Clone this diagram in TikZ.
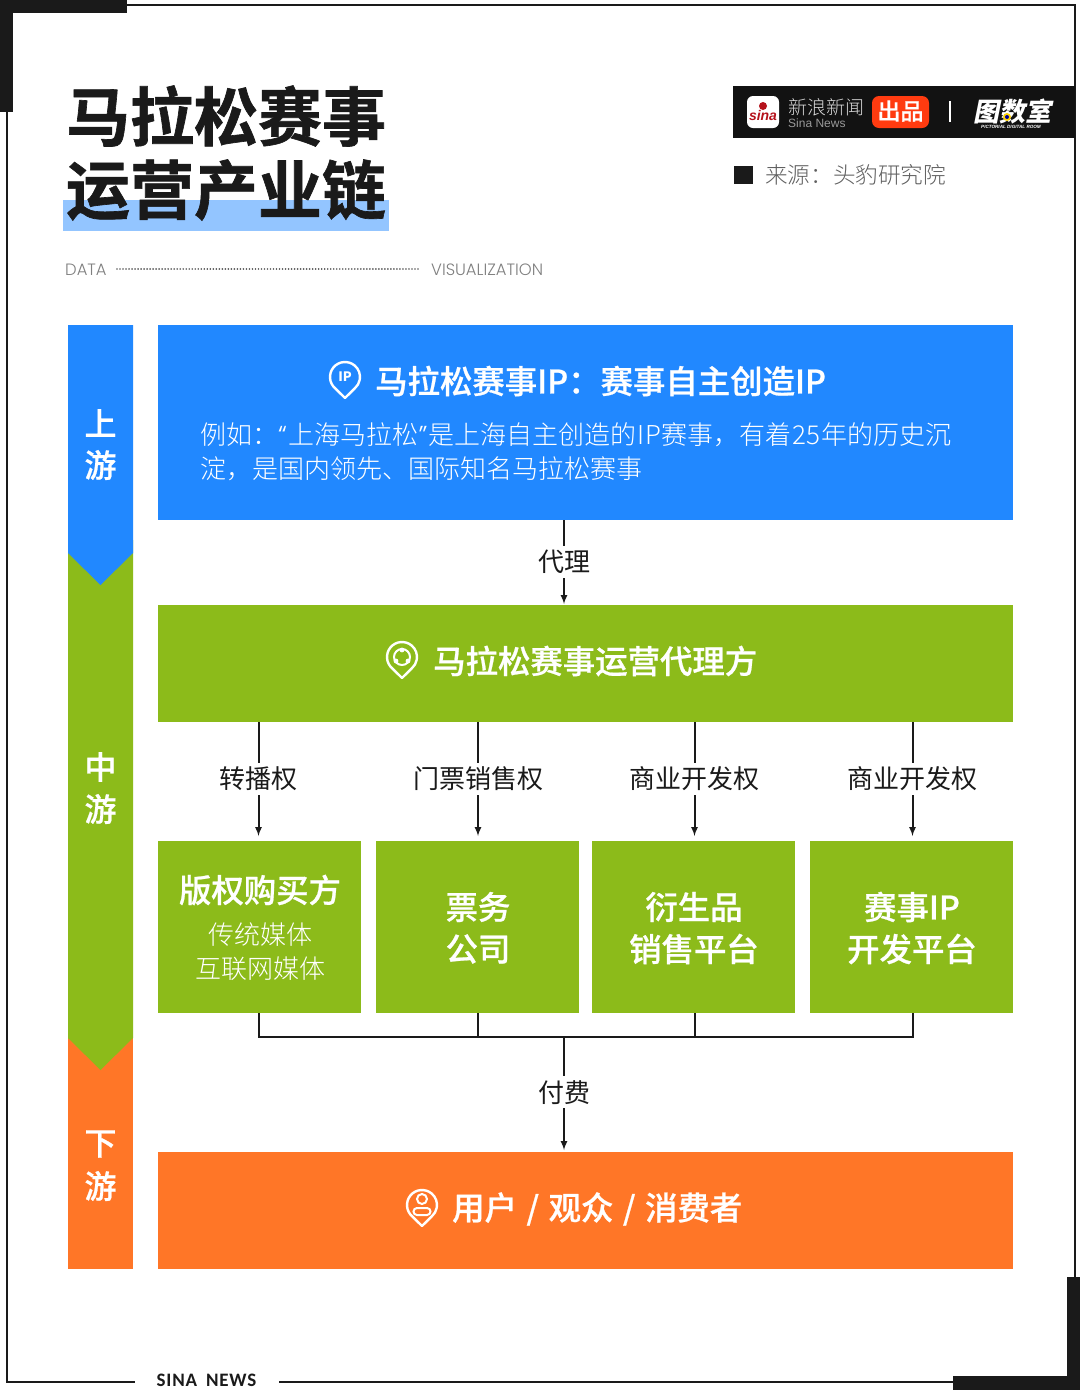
\documentclass[tikz,border=0pt]{standalone}
\usepackage{fontspec}
\setmainfont{Noto Sans CJK SC}
\newfontfamily\heavyfont[FakeBold=1]{Noto Sans CJK SC Bold}
\newfontfamily\mediumfont[FakeBold=0.7]{Noto Sans CJK SC Medium}
\newfontfamily\lightfont{Noto Sans CJK SC Light}
\newfontfamily\logofont[FakeSlant=0.2]{Noto Sans CJK SC Black}
\newfontfamily\latinfont{Poppins Light}
\newfontfamily\brandfont{Liberation Sans}
\newfontfamily\footfont[LetterSpace=4]{Carlito}
\newcommand{\fs}[1]{\fontsize{#1}{#1}\selectfont}
\definecolor{inkblack}{HTML}{1A1A1A}
\definecolor{upblue}{HTML}{2188FF}
\definecolor{midgreen}{HTML}{8CBB1A}
\definecolor{downorange}{HTML}{FF7627}
\definecolor{markblue}{HTML}{93C5FF}
\definecolor{brandred}{HTML}{FF3B10}
\definecolor{sinared}{HTML}{B5121B}
\tikzset{
  frameline/.style={draw=inkblack, line width=2pt},
  panel/.style={inner sep=0pt, outer sep=0pt},
  headtext/.style={text=white, font=\mediumfont\fs{32.4}, inner sep=0pt},
  subtext/.style={text=white, font=\lightfont\fs{26}, inner sep=0pt},
  sidetext/.style={text=white, font=\mediumfont\fs{32}, inner sep=0pt},
  flowtext/.style={text=inkblack, font=\fs{26}, fill=white, inner ysep=4pt, inner xsep=0pt},
  flow/.style={->, draw=inkblack, line width=2pt, shorten >=1pt},
  link/.style={draw=inkblack, line width=2pt},
  pinline/.style={draw=white, line width=2.4pt, line join=round},
  pinmark/.pic={
    \draw[pinline, x=1pt, y=1pt] (-9.64,-11.49) arc[start angle=230,end angle=-50,radius=15] -- (0,-21) -- cycle;
  }
}
\begin{document}
\begin{tikzpicture}[>=latex, x=1pt, y=-1pt]
  \useasboundingbox (0,0) rectangle (1080,1390);
  \fill[white] (0,0) rectangle (1080,1390);
  % Frame and its two heavy corners
  \draw[frameline] (127,5) -- (1075,5) -- (1075,1277);
  \draw[frameline] (7,62) -- (7,1382) -- (135,1382);
  \draw[frameline] (279,1382) -- (953,1382);
  \fill[inkblack] (0,0) rectangle (127,13);
  \fill[inkblack] (0,0) rectangle (13,112);
  \fill[inkblack] (1067,1277) rectangle (1080,1390);
  \fill[inkblack] (953,1376) rectangle (1080,1390);
  \node[text=inkblack, font=\footfont\bfseries\fs{19}, inner sep=0pt, anchor=base] (footer) at (206.5,1386) {SINA\hspace{9pt}NEWS};
  % Title
  \fill[markblue] (63,200) rectangle (389,231);
  \node[text=inkblack, font=\heavyfont\fs{64}, inner sep=0pt] (titleone) at (226,116) {马拉松赛事};
  \node[text=inkblack, font=\heavyfont\fs{64}, inner sep=0pt] (titletwo) at (226,190) {运营产业链};
  \node[text=gray, font=\latinfont\fs{16.4}, inner sep=0pt, anchor=west] (data) at (65,269.5) {DATA};
  \node[text=gray, font=\latinfont\fs{16.4}, inner sep=0pt, anchor=west] (visual) at (431,269.5) {VISUALIZATION};
  \draw[gray!70!black, line width=1.8pt, line cap=round, dash pattern=on 0.01pt off 3pt] (117,269) -- (420,269);
  % Brand band
  \fill[inkblack!70!black] (733,86) rectangle (1075,138);
  \fill[white, rounded corners=6pt] (747,96) rectangle (779,128);
  \node[text=sinared, font=\brandfont\bfseries\itshape\fs{14}, inner sep=0pt] (sina) at (763,115) {sina};
  \fill[sinared] (763,106) circle (4pt);
  \node[text=white!85!black, font=\lightfont\fs{19}, inner sep=0pt, anchor=west] (brandcn) at (788,107) {新浪新闻};
  \node[text=white!60!black, font=\brandfont\fs{12}, inner sep=0pt, anchor=west] (branden) at (788,123) {Sina News};
  \fill[brandred, rounded corners=7pt] (872,96) rectangle (929,128);
  \node[text=white, font=\mediumfont\fs{23}, inner sep=0pt] (made) at (900.5,111) {出品};
  \draw[white, line width=1.5pt] (950,101) -- (950,122);
  \node[text=white, font=\logofont\fs{26}, inner sep=0pt] (roomcn) at (1012,111) {图数室};
  \fill[yellow!70!orange] (1007,117) circle (4pt);
  \fill[blue!60!black] (1007,117) circle (2pt);
  \node[text=white, font=\brandfont\bfseries\itshape\fs{4.6}, inner sep=0pt] (roomen) at (1011,127) {PICTORIAL DIGITAL ROOM};
  % Source
  \fill[inkblack] (734,166) rectangle (753,184);
  \node[text=inkblack!70, font=\lightfont\fs{22.6}, inner sep=0pt, anchor=west] (source) at (765,175) {来源：头豹研究院};
  % Stream strip on the left
  \fill[downorange] (68,1030) rectangle (133,1269);
  \fill[midgreen] (68,540) -- (133,540) -- (133,1038) -- (100.5,1070) -- (68,1038) -- cycle;
  \fill[upblue] (68,325) -- (133,325) -- (133,553) -- (100.5,585) -- (68,553) -- cycle;
  \node[sidetext] (upone) at (100.5,423) {上};
  \node[sidetext] (uptwo) at (100.5,465) {游};
  \node[sidetext] (midone) at (100.5,767) {中};
  \node[sidetext] (midtwo) at (100.5,809) {游};
  \node[sidetext] (downone) at (100.5,1144) {下};
  \node[sidetext] (downtwo) at (100.5,1186) {游};
  % Panels
  \node[panel, fill=upblue, minimum width=855pt, minimum height=195pt] (ipowner) at (585.5,422.5) {};
  \node[panel, fill=midgreen, minimum width=855pt, minimum height=117pt] (agent) at (585.5,663.5) {};
  \node[panel, fill=midgreen, minimum width=203pt, minimum height=172pt] (rights) at (259.5,927) {};
  \node[panel, fill=midgreen, minimum width=203pt, minimum height=172pt] (tickets) at (477.5,927) {};
  \node[panel, fill=midgreen, minimum width=203pt, minimum height=172pt] (goods) at (693.5,927) {};
  \node[panel, fill=midgreen, minimum width=203pt, minimum height=172pt] (develop) at (911.5,927) {};
  \node[panel, fill=downorange, minimum width=855pt, minimum height=117pt] (users) at (585.5,1210.5) {};
  % Panel texts
  \pic at (345,377) {pinmark};
  \node[text=white, font=\fs{13}\bfseries, inner sep=0pt] (iptag) at (345,376.5) {IP};
  \node[headtext, anchor=west] (iphead) at (375,381) {马拉松赛事IP：赛事自主创造IP};
  \node[subtext, anchor=west] (ipbodyone) at (200,435) {例如：{\latinfont “}\hspace{1.5pt}上海马拉松{\latinfont ”}\hspace{1.5pt}是上海自主创造的\hspace{1pt}IP\hspace{1pt}赛事，有着\hspace{1pt}25\hspace{1pt}年的历史沉};
  \node[subtext, anchor=west] (ipbodytwo) at (200,469) {淀，是国内领先、国际知名马拉松赛事};
  \pic at (402,657) {pinmark};
  \draw[white, line width=2pt] (402,657) circle (8pt);
  \fill[white] (402,650) circle (2.4pt) (396,661) circle (2.4pt) (408,661) circle (2.4pt);
  \node[headtext, anchor=west] (agenthead) at (433,661) {马拉松赛事运营代理方};
  \node[headtext] (rightshead) at (260,890) {版权购买方};
  \node[subtext] (rightsone) at (260,935) {传统媒体};
  \node[subtext] (rightstwo) at (260,969) {互联网媒体};
  \node[headtext] (ticketsone) at (478,907) {票务};
  \node[headtext] (ticketstwo) at (478,949) {公司};
  \node[headtext] (goodsone) at (694,907) {衍生品};
  \node[headtext] (goodstwo) at (694,949) {销售平台};
  \node[headtext] (developone) at (912,907) {赛事IP};
  \node[headtext] (developtwo) at (912,949) {开发平台};
  \pic at (422,1205) {pinmark};
  \draw[white, line width=2pt] (422,1199) circle (5pt);
  \draw[white, line width=2pt, rounded corners=3.5pt] (413.5,1208) rectangle (430.5,1215);
  \node[headtext, anchor=west] (usershead) at (452,1209) {用户\hspace{9.5pt}/\hspace{9.5pt}观众\hspace{9.5pt}/\hspace{9.5pt}消费者};
  % Connectors
  \coordinate (rightsdrop) at ([xshift=-1pt]rights.north);
  \coordinate (ticketsdrop) at ([xshift=0.5pt]tickets.north);
  \coordinate (goodsdrop) at ([xshift=1pt]goods.north);
  \coordinate (developdrop) at ([xshift=1pt]develop.north);
  \draw[flow] (ipowner.south -| 564,0) -- node[flowtext, pos=0.49] (agency) {代理} (agent.north -| 564,0);
  \draw[flow, shorten >=5pt] (agent.south -| rightsdrop) -- node[flowtext, pos=0.48] (broadcast) {转播权} (rightsdrop);
  \draw[flow, shorten >=5pt] (agent.south -| ticketsdrop) -- node[flowtext, pos=0.48] (ticketing) {门票销售权} (ticketsdrop);
  \draw[flow, shorten >=5pt] (agent.south -| goodsdrop) -- node[flowtext, pos=0.48] (goodsright) {商业开发权} (goodsdrop);
  \draw[flow, shorten >=5pt] (agent.south -| developdrop) -- node[flowtext, pos=0.48] (developright) {商业开发权} (developdrop);
  \coordinate (hub) at (564,1037);
  \draw[link] (rights.south -| rightsdrop) |- (hub);
  \draw[link] (tickets.south -| ticketsdrop) |- (hub);
  \draw[link] (goods.south -| goodsdrop) |- (hub);
  \draw[link] (develop.south -| developdrop) |- (hub);
  \draw[flow, shorten >=2pt] (hub) -- node[flowtext, pos=0.48] (paying) {付费} (users.north -| hub);
\end{tikzpicture}
\end{document}
